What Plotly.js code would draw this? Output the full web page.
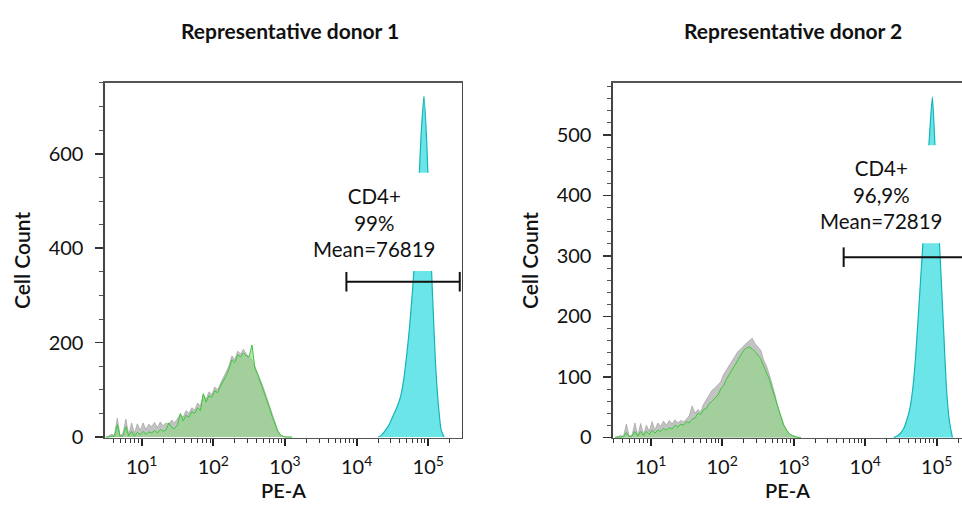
<!DOCTYPE html>
<html>
<head>
<meta charset="utf-8">
<script src="https://cdn.plot.ly/plotly-3.0.1.min.js"></script>
<style>html,body{margin:0;padding:0;background:#fff;}#chart{width:962px;height:507px;}</style>
</head>
<body>
<div id="chart"></div>
<script>
// ---- DATA (log10 of PE-A for bin positions, cell counts) ----
const panelTitles = ["Representative donor 1", "Representative donor 2"];
const xTitle = "PE-A";
const yTitle = "Cell Count";
const decadeTicks = [10, 100, 1000, 10000, 100000];
const decadeLabels = ["10<sup>1</sup>", "10<sup>2</sup>", "10<sup>3</sup>", "10<sup>4</sup>", "10<sup>5</sup>"];

const lowBins = [0.50,0.54,0.58,0.62,0.66,0.70,0.74,0.78,0.82,0.86,0.90,0.94,0.98,1.02,1.06,1.10,1.14,1.18,1.22,1.26,1.30,1.34,1.38,1.42,1.46,1.50,1.54,1.58,1.62,1.66,1.70,1.74,1.78,1.82,1.86,1.90,1.94,1.98,2.02,2.06,2.10,2.14,2.18,2.22,2.26,2.30,2.34,2.38,2.42,2.46,2.50,2.54,2.58,2.62,2.66,2.70,2.74,2.78,2.82,2.86,2.90,2.94,2.98,3.02,3.06,3.10];

const donor1Control = [0,2,6,4,40,3,8,38,5,30,8,28,14,30,16,27,22,31,20,32,24,30,27,36,30,40,48,42,56,50,62,57,72,66,90,80,96,90,106,100,114,126,138,152,172,164,182,176,186,176,170,164,150,136,120,104,86,68,48,30,14,5,1,0,0,0];
const donor1Stained = [0,0,2,1,26,1,3,22,2,12,2,10,5,12,6,11,9,14,9,16,12,15,30,20,18,26,50,34,46,42,54,50,62,56,92,74,88,84,98,94,108,118,130,144,164,158,174,170,178,172,170,195,146,132,116,100,82,64,44,26,12,4,1,0,0,0];

const donor2Control = [0,1,3,2,22,2,4,24,3,23,5,20,10,26,12,24,18,27,20,28,22,29,24,28,26,30,36,52,40,46,42,55,62,70,78,82,88,92,104,112,118,128,134,142,146,152,156,160,164,155,150,144,128,118,104,88,70,50,36,22,13,6,3,1,0,0];
const donor2Stained = [0,0,1,1,8,1,2,10,2,10,3,10,5,12,7,12,10,15,12,16,14,20,17,22,20,26,24,30,32,40,38,46,48,56,60,66,70,80,86,96,104,112,122,130,138,144,148,150,146,142,136,130,118,108,96,80,64,48,34,20,12,6,3,1,0,0];

const cd4Bins1 = [4.30,4.34,4.38,4.42,4.46,4.50,4.54,4.58,4.62,4.66,4.70,4.74,4.78,4.82,4.86,4.90,4.94,4.98,5.02,5.06,5.10,5.14,5.18,5.22];
const cd4Counts1 = [0,3,10,18,28,42,55,70,90,125,175,235,310,400,510,640,722,620,450,300,160,70,15,0];

const cd4Bins2 = [4.40,4.46,4.50,4.54,4.58,4.62,4.66,4.70,4.74,4.78,4.82,4.86,4.90,4.94,4.98,5.02,5.06,5.10,5.14,5.18,5.22];
const cd4Counts2 = [0,3,8,15,28,45,75,125,195,270,345,430,500,563,470,365,270,170,75,25,0];

const gateLabels = ["CD4+<br>99%<br>Mean=76819", "CD4+<br>96,9%<br>Mean=72819"];
const gate1 = {lo: 7200, hi: 275000, level: 329};
const gate2 = {lo: 5000, hi: 400000, level: 298};
// label box (white) interrupting the CD4+ peak: [bottom count, top count]
const labelBox1 = [352, 560];
const labelBox2 = [321, 483];

// ---- helpers ----
const toLin = arr => arr.map(v => Math.pow(10, v));
const FONT = "Lato, 'Open Sans', sans-serif";
const grayLine = 'rgba(150,150,150,1)';
const grayFill = 'rgba(170,170,170,0.7)';
const greenLine = 'rgba(60,200,60,1)';
const greenFill = 'rgba(140,215,130,0.6)';
const cyanLine = 'rgb(20,180,185)';
const cyanFill = 'rgba(70,222,226,0.8)';

function panel(xa, ya, bins, ctrl, stained, cBins, cCounts, gate) {
  return [
    {x: toLin(bins), y: ctrl, xaxis: xa, yaxis: ya, type: 'scatter', mode: 'lines',
     fill: 'tozeroy', fillcolor: grayFill, line: {color: grayLine, width: 0.6, shape: 'linear'}, hoverinfo: 'skip'},
    {x: toLin(bins), y: stained, xaxis: xa, yaxis: ya, type: 'scatter', mode: 'lines',
     fill: 'tozeroy', fillcolor: greenFill, line: {color: greenLine, width: 1}, hoverinfo: 'skip'},
    {x: toLin(cBins), y: cCounts, xaxis: xa, yaxis: ya, type: 'scatter', mode: 'lines',
     fill: 'tozeroy', fillcolor: cyanFill, line: {color: cyanLine, width: 1.2, shape: 'spline', smoothing: 0.6}, hoverinfo: 'skip'},
    {x: [gate.lo, gate.hi], y: [gate.level, gate.level], xaxis: xa, yaxis: ya, type: 'scatter',
     mode: 'lines+markers', line: {color: '#111', width: 2},
     marker: {symbol: 'line-ns-open', size: 14, line: {color: '#111', width: 2}}, cliponaxis: false, hoverinfo: 'skip'}
  ];
}

const data = [].concat(
  panel('x', 'y', lowBins, donor1Control, donor1Stained, cd4Bins1, cd4Counts1, gate1),
  panel('x2', 'y2', lowBins, donor2Control, donor2Stained, cd4Bins2, cd4Counts2, gate2)
);

const minorX = [];
[1, 10, 100, 1000, 10000, 100000].forEach(d => { for (let k = 2; k <= 9; k++) minorX.push(d * k); });

function xAxis(domain, range, anchor) {
  return {
    type: 'log', domain: domain, range: range, anchor: anchor,
    tickmode: 'array', tickvals: decadeTicks, ticktext: decadeLabels,
    ticks: 'outside', ticklen: 7, tickwidth: 2.2, tickcolor: '#222',
    minor: {tickmode: 'array', tickvals: minorX, ticks: 'outside', ticklen: 4, tickwidth: 1, tickcolor: '#333'},
    showline: true, linecolor: '#555', linewidth: 1.5, mirror: true,
    showgrid: false, zeroline: false, automargin: false,
    tickfont: {family: FONT, size: 20, color: '#111'}, ticklabelstandoff: 4,
    title: {text: xTitle, font: {family: FONT, size: 20, color: '#111', weight: 600}, standoff: 4}
  };
}
function yAxis(domain, range, anchor, dtick, minorDtick, mirror) {
  return {
    domain: domain, range: range, anchor: anchor,
    tickmode: 'linear', tick0: 0, dtick: dtick,
    ticks: 'outside', ticklen: 8, tickwidth: 1.5, tickcolor: '#333',
    minor: {dtick: minorDtick, tick0: 0, ticks: 'outside', ticklen: 4, tickwidth: 1, tickcolor: '#555'},
    showline: true, linecolor: '#444', linewidth: 1.5, mirror: mirror,
    showgrid: false, zeroline: false, automargin: false,
    tickfont: {family: FONT, size: 20, color: '#111'}, ticklabelstandoff: 8,
    title: {text: yTitle, font: {family: FONT, size: 21, color: '#111', weight: 600}, standoff: 12}
  };
}

function maskRect(xref, yref, box) {
  return {type: 'rect', xref: xref, yref: yref, layer: 'above',
          x0: 30000, x1: 200000, y0: box[0], y1: box[1],
          fillcolor: '#fff', line: {width: 0}};
}

const layout = {
  width: 962, height: 507,
  margin: {l: 0, r: 0, t: 0, b: 0},
  paper_bgcolor: '#fff', plot_bgcolor: '#fff',
  showlegend: false,
  font: {family: FONT, color: '#111'},
  xaxis: xAxis([0.1091, 0.4802], [0.488, 5.47], 'y'),
  yaxis: yAxis([0.1361, 0.8363], [-2, 750], 'x', 200, 50, true),
  xaxis2: xAxis([0.6372, 1.0], [0.473, 5.354], 'y2'),
  yaxis2: yAxis([0.1361, 0.8363], [-1, 586], 'x2', 100, 20, false),
  shapes: [maskRect('x', 'y', labelBox1), maskRect('x2', 'y2', labelBox2)],
  annotations: [
    {text: panelTitles[0], xref: 'paper', yref: 'paper', x: 0.3015, y: 0.9408, xanchor: 'center', yanchor: 'middle',
     showarrow: false, font: {family: FONT, size: 21, weight: 700, color: '#111'}},
    {text: panelTitles[1], xref: 'paper', yref: 'paper', x: 0.8243, y: 0.9408, xanchor: 'center', yanchor: 'middle',
     showarrow: false, font: {family: FONT, size: 21, weight: 700, color: '#111'}},
    {text: gateLabels[0], xref: 'x', yref: 'y', x: 4.255, y: 455, xanchor: 'center', yanchor: 'middle',
     showarrow: false, font: {family: FONT, size: 20.5, color: '#111'}},
    {text: gateLabels[1], xref: 'x2', yref: 'y2', x: 4.228, y: 401, xanchor: 'center', yanchor: 'middle',
     showarrow: false, font: {family: FONT, size: 20.5, color: '#111'}}
  ]
};

Plotly.newPlot('chart', data, layout, {staticPlot: true, displayModeBar: false});
</script>
</body>
</html>
